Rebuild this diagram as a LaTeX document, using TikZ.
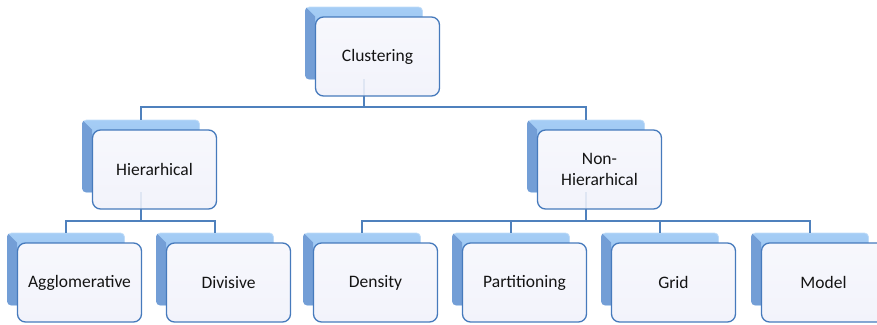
\documentclass[tikz,border=0pt]{standalone}
\usepackage{fontspec}
\setmainfont{Carlito}
\usetikzlibrary{calc}
\definecolor{lineblue}{RGB}{79,129,189}
\definecolor{edgeblue}{RGB}{70,122,188}
\definecolor{topblue}{RGB}{165,205,245}
\definecolor{topblue2}{RGB}{140,186,237}
\definecolor{sideblue}{RGB}{115,158,214}
\definecolor{frontfill}{RGB}{242,243,251}
\definecolor{txt}{RGB}{20,20,20}
\tikzset{
  backbox/.style={rounded corners=4pt, minimum width=117pt, minimum height=72pt, inner sep=0pt,
    top color=topblue, bottom color=topblue2, draw=topblue!70!white, line width=0.8pt},
  frontbox/.style={draw=edgeblue, line width=1.3pt, rounded corners=8pt, minimum width=124pt,
    minimum height=79pt, inner sep=2pt, top color=frontfill!60!white, bottom color=frontfill,
    font=\fontsize{17.5}{21}\selectfont, align=center, text=txt},
  conn/.style={draw=lineblue, line width=1.2pt},
  faint/.style={draw=lineblue, line width=1.2pt, draw opacity=0.12}
}
\newcommand\backpart[3]{%
  \node[backbox] (#1-b) at (#2,#3) {};
  \begin{scope}
    \clip[rounded corners=4pt] (#1-b.north west) rectangle (#1-b.south east);
    \fill[sideblue] (#1-b.north west) -- ($(#1-b.north west)+(10,10)$) --
      ($(#1-b.south west)+(10,0)$) -- (#1-b.south west) -- cycle;
  \end{scope}
}
\newcommand\frontpart[2]{%
  \node[frontbox] (#1) at ($(#1-b)+(13.5,13.5)$) {#2};
}
\begin{document}
\begin{tikzpicture}[x=1pt,y=-1pt]
\useasboundingbox (0,0) rectangle (877,324);
% back boxes
\backpart{clu}{364}{43}
\backpart{hie}{141}{156}
\backpart{non}{586}{156}
\backpart{agg}{66}{269}
\backpart{div}{215}{269}
\backpart{den}{362}{269}
\backpart{par}{511}{269}
\backpart{gri}{660}{269}
\backpart{mod}{810}{269}
% buses
\coordinate (bus1) at (0,107);
\coordinate (bus2) at (0,221);
\draw[conn] (clu-b.south) -- (clu-b.south |- bus1) -| (hie-b.north);
\draw[conn] (clu-b.south |- bus1) -| (non-b.north);
\draw[conn] (hie-b.south) -- (hie-b.south |- bus2) -| (agg-b.north);
\draw[conn] (hie-b.south |- bus2) -| (div-b.north);
\draw[conn] (non-b.south) -- (non-b.south |- bus2) -| (den-b.north);
\draw[conn] (non-b.south |- bus2) -| (mod-b.north);
\draw[conn] (par-b.north) -- (par-b.north |- bus2);
\draw[conn] (gri-b.north) -- (gri-b.north |- bus2);
% front boxes
\frontpart{clu}{Clustering}
\frontpart{hie}{Hierarhical}
\frontpart{non}{Non-\\Hierarhical}
\frontpart{agg}{Agglomerative}
\frontpart{div}{Divisive}
\frontpart{den}{Density}
\frontpart{par}{Partitioning}
\frontpart{gri}{Grid}
\frontpart{mod}{Model}
% faint stubs seen through the front boxes
\draw[faint] (clu-b.south) -- (clu-b.south |- clu.south);
\draw[faint] (hie-b.south) -- (hie-b.south |- hie.south);
\draw[faint] (non-b.south) -- (non-b.south |- non.south);
\end{tikzpicture}
\end{document}
